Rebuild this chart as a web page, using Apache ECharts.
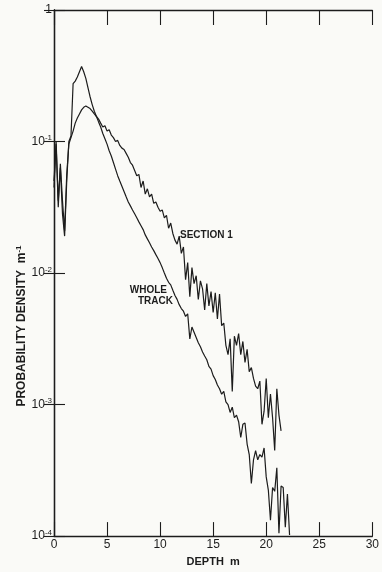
<!DOCTYPE html>
<html>
<head>
<meta charset="utf-8">
<script src="https://cdn.jsdelivr.net/npm/echarts@6/dist/echarts.min.js"></script>
<style>
  html, body { margin: 0; padding: 0; background: #fafaf7; }
  #chart { width: 382px; height: 572px; }
</style>
</head>
<body>
<div id="chart"></div>
<script>
// Depth sampling interval of the density curves (m)
const depthStep = 0.2;

// Probability density (per m) of ice depth, whole track, from 0 m in 0.2 m steps
const wholeTrack = [
  0.0447, 0.100, 0.0355, 0.0631, 0.0282, 0.0191, 0.0501, 0.100, 0.110, 0.275,
  0.288, 0.309, 0.339, 0.372, 0.339, 0.302, 0.257, 0.219, 0.191, 0.170,
  0.155, 0.141, 0.129, 0.115, 0.105, 0.0955, 0.0851, 0.0776, 0.0692, 0.0617,
  0.0550, 0.0501, 0.0457, 0.0417, 0.0380, 0.0347, 0.0324, 0.0302, 0.0282, 0.0263,
  0.0245, 0.0229, 0.0214, 0.0195, 0.0182, 0.0170, 0.0158, 0.0148, 0.0138, 0.0129,
  0.0120, 0.0110, 0.0100, 0.00912, 0.00851, 0.00813, 0.00741, 0.00676, 0.00631, 0.00575,
  0.00537, 0.00513, 0.00468, 0.00490, 0.00316, 0.00389, 0.00355, 0.00324, 0.00295, 0.00275,
  0.00251, 0.00234, 0.00219, 0.00195, 0.00186, 0.00166, 0.00155, 0.00141, 0.00132, 0.00120,
  0.00126, 0.00105, 0.00100, 0.000871, 0.000955, 0.000794, 0.000832, 0.000741, 0.000562, 0.000708,
  0.000724, 0.000501, 0.000417, 0.000251, 0.000380, 0.000447, 0.000380, 0.000417, 0.000398, 0.000468,
  0.000282, 0.000224, 0.000132, 0.000234, 0.000219, 0.000331, 0.000105, 0.000240, 0.000234, 0.000117,
  0.000209, 0.000102
];

// Probability density (per m) of ice depth, section 1, from 0 m in 0.2 m steps
const section1 = [
  0.0501, 0.0955, 0.0316, 0.0676, 0.0355, 0.0209, 0.0562, 0.0955, 0.107, 0.120,
  0.138, 0.151, 0.162, 0.174, 0.182, 0.186, 0.182, 0.178, 0.170, 0.162,
  0.155, 0.148, 0.138, 0.129, 0.132, 0.120, 0.123, 0.112, 0.107, 0.100,
  0.102, 0.0933, 0.0891, 0.0871, 0.0813, 0.0759, 0.0692, 0.0661, 0.0603, 0.0550,
  0.0562, 0.0447, 0.0501, 0.0398, 0.0437, 0.0380, 0.0398, 0.0339, 0.0347, 0.0316,
  0.0295, 0.0302, 0.0263, 0.0275, 0.0219, 0.0240, 0.0200, 0.0178, 0.0166, 0.0191,
  0.0141, 0.0158, 0.00891, 0.0120, 0.00661, 0.0110, 0.00832, 0.00955, 0.00631, 0.00871,
  0.00759, 0.00525, 0.00832, 0.00562, 0.00724, 0.00501, 0.00708, 0.00447, 0.00692, 0.00398,
  0.00417, 0.00282, 0.00240, 0.00316, 0.00126, 0.00331, 0.00282, 0.00347, 0.00240, 0.00302,
  0.00209, 0.00263, 0.00178, 0.00191, 0.00158, 0.00138, 0.00132, 0.00151, 0.000708, 0.000891,
  0.00158, 0.000794, 0.00120, 0.000794, 0.000447, 0.00132, 0.000832, 0.000631
];

// Decade tick labels of the density axis, keyed by exponent
const yTickLabels = {
  '0': '{b|1}',
  '-1': '{b|10}{s|-1}',
  '-2': '{b|10}{s|-2}',
  '-3': '{b|10}{s|-3}',
  '-4': '{b|10}{s|-4}'
};

const curveNames = ['WHOLE TRACK', 'SECTION 1'];

const toPairs = arr => arr.map((v, i) => [Math.round(i * depthStep * 10) / 10, v]);

const ink = '#1c1c1c';
const font = '"Liberation Sans", Arial, sans-serif';

const chart = echarts.init(document.getElementById('chart'), null, { renderer: 'canvas' });

const tickRich = {
  b: { fontFamily: font, fontSize: 12, color: ink, lineHeight: 15, verticalAlign: 'middle' },
  s: { fontFamily: font, fontSize: 8, color: ink, lineHeight: 15, verticalAlign: 'top' }
};

chart.setOption({
  backgroundColor: '#fafaf7',
  animation: false,
  grid: { left: 54, right: 6, top: 10, bottom: 30, containLabel: false },
  xAxis: [
    {
      type: 'value', min: 0, max: 30, interval: 5, position: 'bottom',
      axisLine: { lineStyle: { color: ink, width: 1.3 } },
      axisTick: { inside: true, length: 14, lineStyle: { color: ink, width: 1.1 } },
      axisLabel: { color: ink, fontFamily: font, fontSize: 12, margin: 3 },
      splitLine: { show: false },
      name: 'DEPTH  m', nameLocation: 'middle', nameGap: 17,
      nameTextStyle: { color: ink, fontFamily: font, fontSize: 11, fontWeight: 'bold' }
    },
    {
      type: 'value', min: 0, max: 30, interval: 5, position: 'top',
      axisLine: { lineStyle: { color: ink, width: 1.3 } },
      axisTick: { inside: true, length: 15, lineStyle: { color: ink, width: 1.1 } },
      axisLabel: { show: false },
      splitLine: { show: false }
    }
  ],
  yAxis: [
    {
      type: 'log', logBase: 10, min: 1e-4, max: 1, position: 'left',
      axisLine: { lineStyle: { color: ink, width: 1.3 } },
      axisTick: { inside: true, length: 11, lineStyle: { color: ink, width: 1.1 } },
      minorTick: { show: false },
      axisLabel: {
        margin: 2,
        formatter: v => yTickLabels[String(Math.round(Math.log10(v)))] || '',
        rich: tickRich
      },
      splitLine: { show: false }
    },
    {
      type: 'log', logBase: 10, min: 1e-4, max: 1, position: 'right',
      axisLine: { lineStyle: { color: ink, width: 1.3 } },
      axisTick: { inside: true, length: 10, lineStyle: { color: ink, width: 1.1 } },
      axisLabel: { show: false },
      splitLine: { show: false }
    }
  ],
  series: [
    {
      name: curveNames[0], type: 'line', data: toPairs(wholeTrack),
      showSymbol: false, symbol: 'none', clip: true,
      lineStyle: { color: ink, width: 1.2 }
    },
    {
      name: curveNames[1], type: 'line', data: toPairs(section1),
      showSymbol: false, symbol: 'none', clip: true,
      lineStyle: { color: ink, width: 1.2 }
    }
  ],
  graphic: [
    {
      type: 'text', x: 22, y: 326, rotation: Math.PI / 2,
      style: {
        text: '{t|PROBABILITY DENSITY  m}{s|-1}',
        align: 'center', verticalAlign: 'middle',
        rich: {
          t: { fontFamily: font, fontSize: 12, fontWeight: 'bold', fill: ink, lineHeight: 15, verticalAlign: 'middle' },
          s: { fontFamily: font, fontSize: 8, fontWeight: 'bold', fill: ink, lineHeight: 15, verticalAlign: 'top' }
        }
      }
    },
    {
      type: 'text', x: 180, y: 235,
      style: { text: curveNames[1], fontFamily: font, fontSize: 10, fontWeight: 'bold', fill: ink, align: 'left', verticalAlign: 'middle' }
    },
    {
      type: 'text', x: 167, y: 290,
      style: { text: 'WHOLE', fontFamily: font, fontSize: 10, fontWeight: 'bold', fill: ink, align: 'right', verticalAlign: 'middle' }
    },
    {
      type: 'text', x: 173, y: 301,
      style: { text: 'TRACK', fontFamily: font, fontSize: 10, fontWeight: 'bold', fill: ink, align: 'right', verticalAlign: 'middle' }
    }
  ]
});
</script>
</body>
</html>
